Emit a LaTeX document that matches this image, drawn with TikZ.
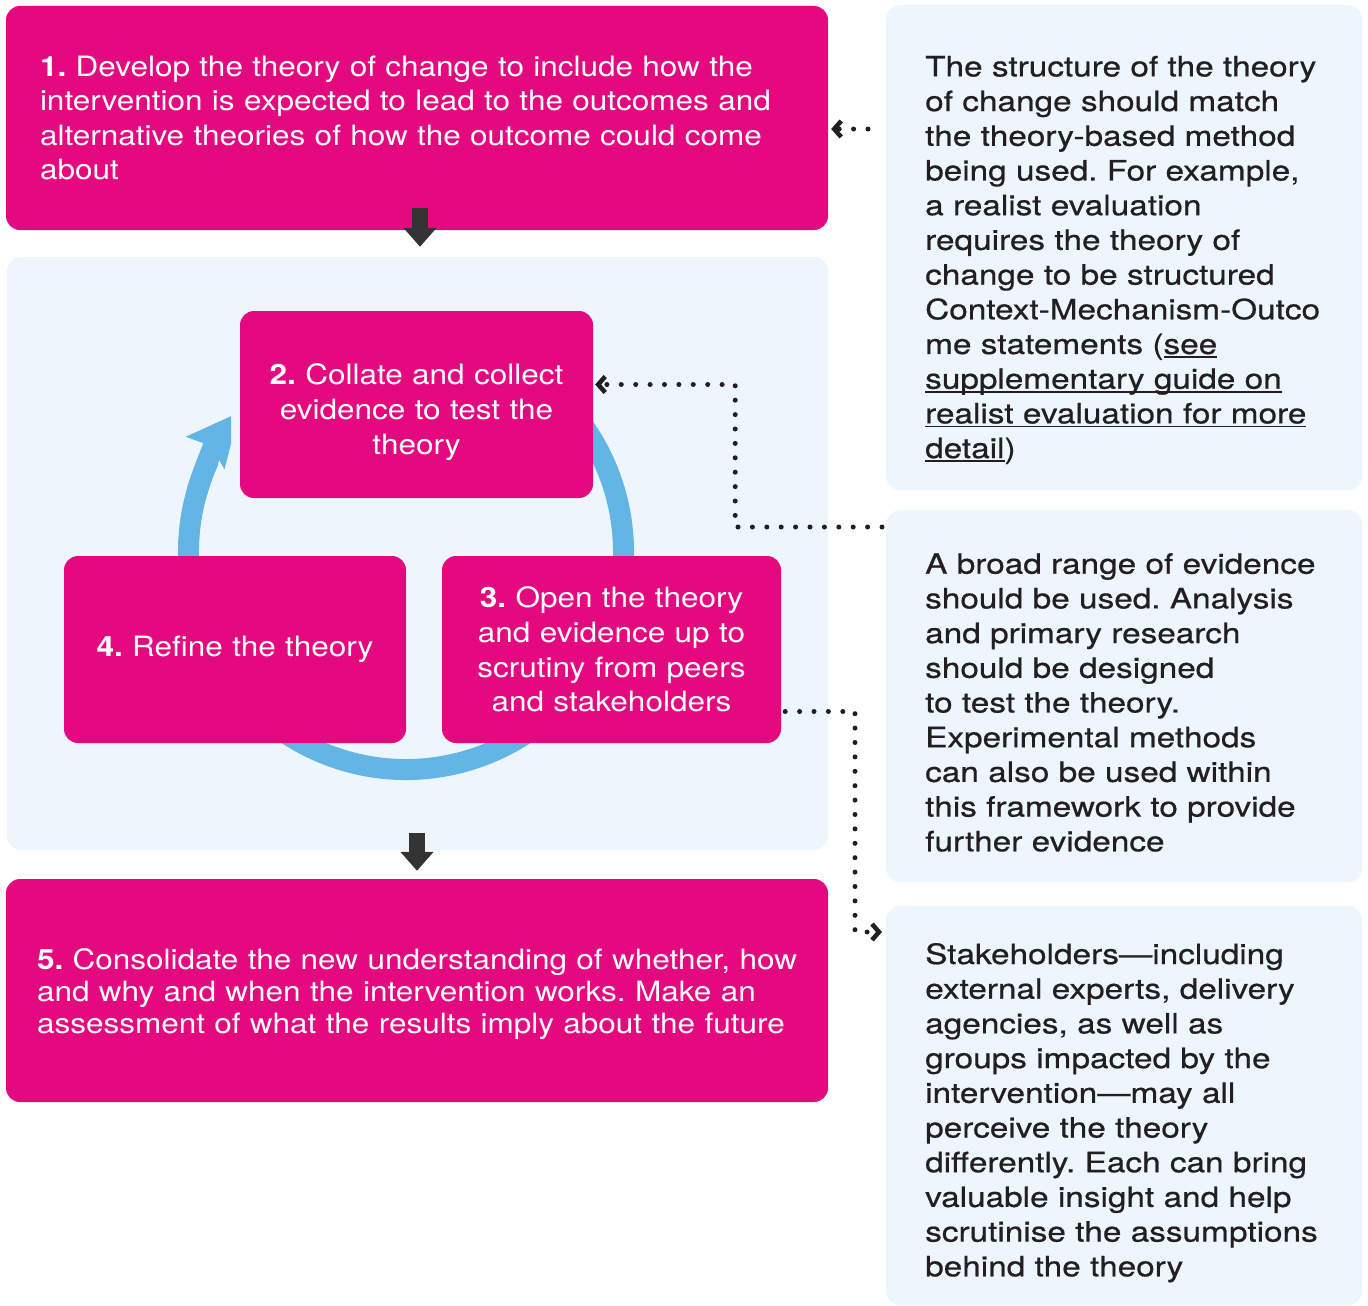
\documentclass[tikz,border=0pt]{standalone}
\usepackage{fontspec}
\setmainfont[FakeStretch=1.125]{TeX Gyre Heros}
\newfontfamily\notefont[FakeBold=0.6,FakeStretch=1.19]{TeX Gyre Heros}
\usetikzlibrary{arrows.meta,calc}
\definecolor{stepmag}{HTML}{E5097F}
\definecolor{panelblue}{HTML}{EEF6FD}
\definecolor{cycleblue}{HTML}{62B5E5}
\definecolor{notegray}{HTML}{231F20}
\definecolor{blockgray}{HTML}{333333}
\frenchspacing
% underline that runs through the descenders
\newcommand\lnk[1]{\leavevmode\setbox0\hbox{#1}\copy0\llap{\rule[-4pt]{\wd0}{1.8pt}}}

\begin{document}
\begin{tikzpicture}[x=1pt,y=-1pt,line cap=round,line join=round,
  stepbox/.style={fill=stepmag,rounded corners=14pt,text=white,inner sep=0pt,
    font=\fontsize{28}{34.6}\selectfont,minimum height=187pt},
  notebox/.style={fill=panelblue,rounded corners=14pt,text=notegray,anchor=north west,
    font=\notefont\fontsize{28}{34.7}\selectfont,align=left,text width=398pt,
    inner xsep=39pt,inner ysep=0pt},
  panel/.style={fill=panelblue,rounded corners=14pt},
  cycleline/.style={draw=cycleblue,line width=21pt,line cap=butt},
  blockarrow/.style={draw=blockgray,line width=16pt,line cap=butt,
    -{Triangle[width=32pt,length=19pt]}},
  link/.style={draw=notegray,line width=5pt,dash pattern=on 0pt off 14.4pt,
    -{Straight Barb[length=7pt,width=16pt,line width=4.5pt]}}]
\clip (0,0) rectangle (1368,1306);

% step 1
\node[stepbox,minimum width=822pt,minimum height=224pt,text width=754pt,align=left]
  (box1) at (417,118) {\textbf{1.} Develop the theory of change to include how the\\
  intervention is expected to lead to the outcomes and\\
  alternative theories of how the outcome could come\\
  about};

% the loop 2-3-4
\node[panel,minimum width=821pt,minimum height=593pt] (loop) at (417.5,553.5) {};
\draw[cycleline] (406,552) ++(-60:217.5) arc[start angle=-60,end angle=205,radius=217.5];
\begin{scope}
\clip (0,300) rectangle (231,560);
\draw[cycleline,-{Stealth[length=52pt,width=48pt,inset=8pt]}]
  (406,552) ++(195:217.5) arc[start angle=195,end angle=220,radius=217.5];
\end{scope}
\node[stepbox,minimum width=353pt,text width=340pt,align=center]
  (box2) at (416.5,404.5) {\rule{0pt}{36pt}\textbf{2.} Collate and collect\\
  evidence to test the\\ theory};
\node[stepbox,minimum width=339pt,text width=334pt,align=center]
  (box3) at (611.5,649.5) {\textbf{3.} Open the theory\\ and evidence up to\\
  scrutiny from peers\\ and stakeholders};
\node[stepbox,minimum width=342pt,text width=334pt,align=center]
  (box4) at (235,649.5) {\textbf{4.} Refine the theory};

% step 5
\node[stepbox,minimum width=822pt,minimum height=223pt,text width=760pt,align=left,
  font=\fontsize{28}{32}\selectfont]
  (box5) at (417,990.5) {\rule{0pt}{29pt}\textbf{5.} Consolidate the new understanding of whether, how\\
  and why and when the intervention works. Make an\\
  assessment of what the results imply about the future};

\draw[blockarrow] ($(box1.south)+(3,-22)$) -- ($(loop.north)+(2.5,-10)$);
\draw[blockarrow] ($(loop.south)+(-0.5,-17)$) -- ($(box5.north)+(0,-8)$);

% notes
\node[notebox,minimum height=485pt] (noteA) at (886,5) {\rule{0pt}{45pt}The structure of the theory\\
  of change should match\\ the theory-based method\\
  being used. For example,\\ a realist evaluation\\ requires the theory of\\
  change to be structured\\ Context-Mechanism-Outco\\ me statements (\lnk{see}\\
  \lnk{supplementary guide on}\\ \lnk{realist evaluation for more}\\ \lnk{detail})};
\node[notebox,minimum height=372pt] (noteB) at (886,510) {\rule{0pt}{33pt}A broad range of evidence\\
  should be used. Analysis\\ and primary research\\
  should be designed\\ to test the theory.\\ Experimental methods\\
  can also be used within\\ this framework to provide\\ further evidence};
\node[notebox,minimum height=399pt] (noteC) at (886,906) {\rule{0pt}{35pt}Stakeholders—including\\
  external experts, delivery\\ agencies, as well as\\
  groups impacted by the\\ intervention—may all\\ perceive the theory\\
  differently. Each can bring\\ valuable insight and help\\
  scrutinise the assumptions\\ behind the theory};

\draw[link] ($(noteA.west |- box1.east)+(-18,11)$) -- ($(box1.east)+(3,11)$);
\draw[link] ($(noteB.north west)+(-4,17)$) -| ($(box2.east)+(142,-20)$)
  -- ($(box2.east)+(2,-20)$);
\draw[link] ($(box3.east)+(4,62)$) -| ($(noteC.north west)+(-31,26)$)
  -- ($(noteC.north west)+(-4,26)$);
\end{tikzpicture}
\end{document}
